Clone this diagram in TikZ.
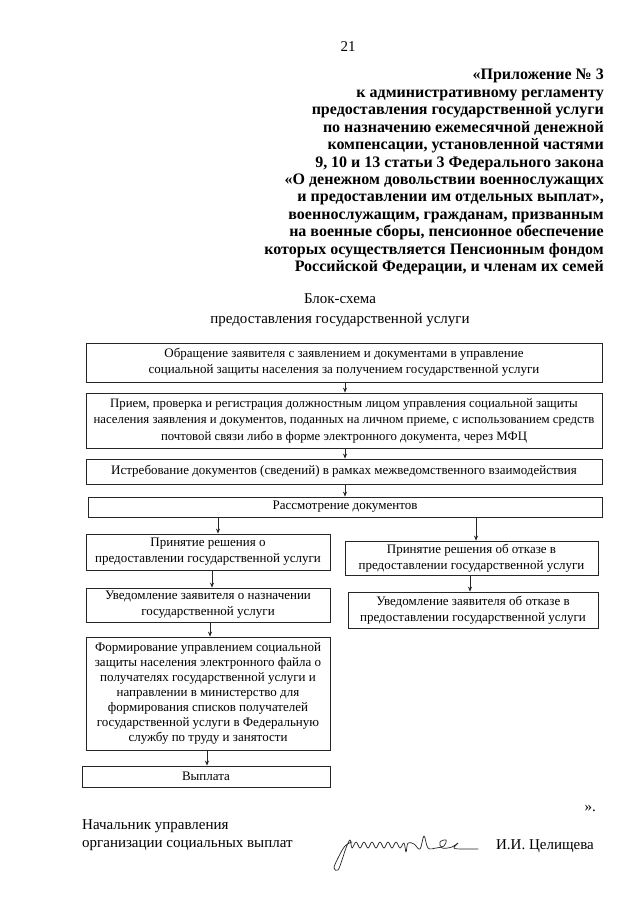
\documentclass[tikz,border=0pt]{standalone}
\usepackage{fontspec}
\setmainfont{Liberation Serif}
\usetikzlibrary{arrows.meta}
\tikzset{
  box/.style={draw=black!85, line width=0.8pt, align=center, inner sep=1pt,
    font=\fontsize{13}{16}\selectfont},
  arr/.style={draw=black!85, line width=0.7pt, -{Stealth[length=5pt,width=4pt]}},
  hdr/.style={align=right, inner sep=0pt, font=\bfseries\fontsize{16}{17.45}\selectfont},
  ttl/.style={inner sep=0pt, font=\fontsize{15}{18}\selectfont},
  ftr/.style={inner sep=0pt, font=\fontsize{15}{20}\selectfont}
}
\begin{document}
\begin{tikzpicture}[x=1pt,y=1pt]
\useasboundingbox[fill=white] (0,0) rectangle (640,-905);

\node[inner sep=0pt, font=\fontsize{15}{18}\selectfont] (pg) at (348,-47) {21};

\node[hdr, anchor=north east] (head) at (604,-69) {«Приложение № 3\\
к административному регламенту\\
предоставления государственной услуги\\
по назначению ежемесячной денежной\\
компенсации, установленной частями\\
9, 10 и 13 статьи 3 Федерального закона\\
«О денежном довольствии военнослужащих\\
и предоставлении им отдельных выплат»,\\
военнослужащим, гражданам, призванным\\
на военные сборы, пенсионное обеспечение\\
которых осуществляется Пенсионным фондом\\
Российской Федерации, и членам их семей};

\node[ttl] (t1) at (340,-299) {Блок-схема};
\node[ttl] (t2) at (340,-320) {предоставления государственной услуги};

\node[box, minimum width=516, minimum height=39] (b1) at (344,-362.5)
  {Обращение заявителя с заявлением и документами в управление\\социальной защиты населения за получением государственной услуги};
\node[box, minimum width=516, minimum height=55, inner sep=0.5pt,
  font=\fontsize{12.8}{16.5}\selectfont] (b2) at (344,-420.5)
  {Прием, проверка и регистрация должностным лицом управления социальной защиты\\населения заявления и документов, поданных на личном приеме, с использованием средств\\почтовой связи либо в форме электронного документа, через МФЦ};
\node[box, minimum width=516, minimum height=25] (b3) at (344,-471.5)
  {Истребование документов (сведений) в рамках межведомственного взаимодействия};
\node[box, minimum width=514, minimum height=20] (b4) at (345,-507)
  {Рассмотрение документов};
\node[box, minimum width=244, minimum height=36] (b5l) at (208,-552)
  {Принятие решения о\\предоставлении государственной услуги};
\node[box, minimum width=253, minimum height=34] (b5r) at (471.5,-558)
  {Принятие решения об отказе в\\предоставлении государственной услуги};
\node[box, minimum width=244, minimum height=34] (b6l) at (208,-605)
  {Уведомление заявителя о назначении\\государственной услуги};
\node[box, minimum width=250, minimum height=36] (b6r) at (473,-610)
  {Уведомление заявителя об отказе в\\предоставлении государственной услуги};
\node[box, minimum width=244, minimum height=113,
  font=\fontsize{13}{15}\selectfont] (b7) at (208,-693.5)
  {Формирование управлением социальной\\защиты населения электронного файла о\\получателях государственной услуги и\\направлении в министерство для\\формирования списков получателей\\государственной услуги в Федеральную\\службу по труду и занятости};
\node[box, minimum width=248, minimum height=21] (b8) at (206,-776.5)
  {Выплата};

\coordinate (xa) at (345,0);
\coordinate (x4l) at (218,0);
\coordinate (x4r) at (476,0);
\coordinate (x5l) at (212,0);
\coordinate (x5r) at (470,0);
\coordinate (x6) at (210,0);
\coordinate (x7) at (207,0);

\draw[arr] (b1.south -| xa) -- (b2.north -| xa);
\draw[arr] (b2.south -| xa) -- (b3.north -| xa);
\draw[arr] (b3.south -| xa) -- (b4.north -| xa);
\draw[arr] (b4.south -| x4l) -- (b5l.north -| x4l);
\draw[arr] (b4.south -| x4r) -- (b5r.north -| x4r);
\draw[arr] (b5l.south -| x5l) -- (b6l.north -| x5l);
\draw[arr] (b5r.south -| x5r) -- (b6r.north -| x5r);
\draw[arr] (b6l.south -| x6) -- (b7.north -| x6);
\draw[arr] (b7.south -| x7) -- (b8.north -| x7);

\node[ftr, anchor=east] (q) at (596,-808) {».};
\node[ftr, anchor=west] (f1) at (82,-826) {Начальник управления};
\node[ftr, anchor=west] (f2) at (82,-846) {организации социальных выплат};
\node[ftr, anchor=east] (nm) at (594,-846) {И.И. Целищева};

% signature
\draw[line width=0.7pt, black!85, line cap=round, line join=round]
  plot[smooth, tension=0.6] coordinates {
   (352,-842) (345,-846) (338,-858) (334,-868) (338,-870) (342,-860) (346,-848) (350,-840)
   (352,-848) (356,-842) (360,-848) (364,-842) (368,-848) (372,-842) (376,-848) (380,-842)
   (384,-848) (388,-842) (392,-848) (396,-842) (400,-848) (404,-843) (406,-852) (408,-843)
   (414,-844) (420,-849) (424,-836) (428,-848) (436,-848) (444,-846) (446,-840) (440,-842)
   (442,-848) (452,-847) (458,-843) (454,-848) (462,-849) (478,-849)};
\end{tikzpicture}
\end{document}
